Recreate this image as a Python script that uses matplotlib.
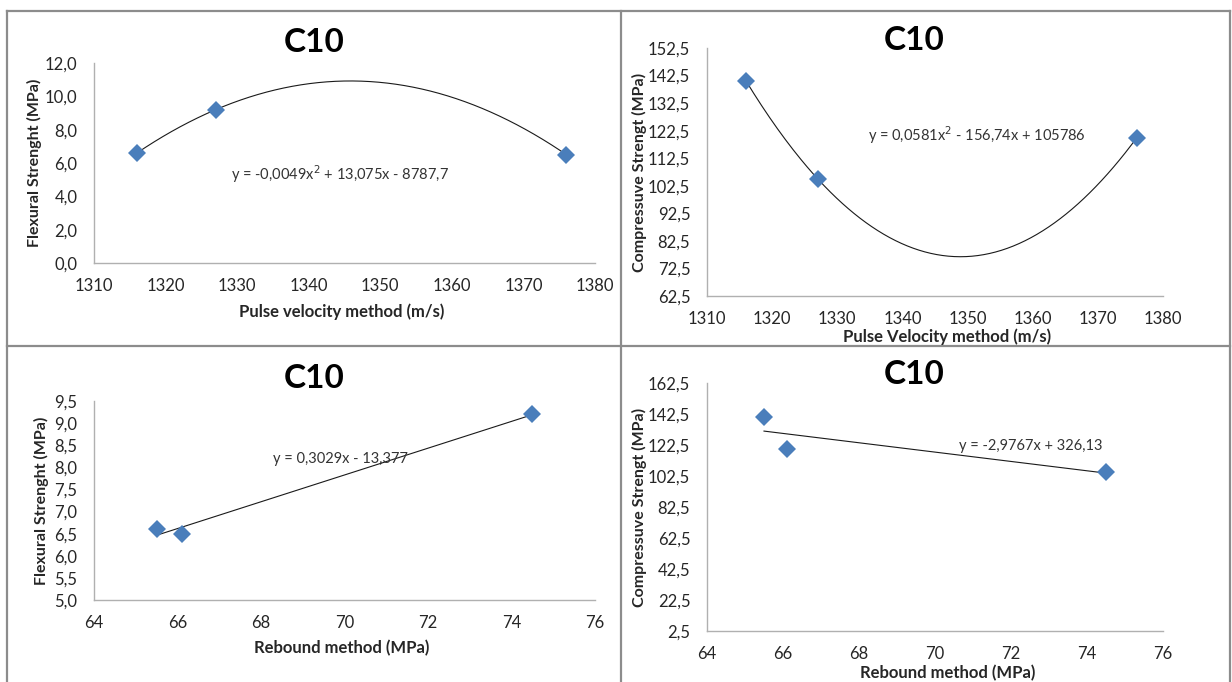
import numpy as np
import matplotlib
matplotlib.use("Agg")
import matplotlib.pyplot as plt
from matplotlib.lines import Line2D
from matplotlib.ticker import FuncFormatter

plt.rcParams['font.family'] = ['Lato', 'DejaVu Sans']

# measurements for the C10 mix
pulse_velocity = [1316, 1327, 1376]        # m/s
rebound = [65.5, 74.5, 66.1]               # MPa, same specimens as above
flexural = [6.6, 9.2, 6.5]                 # MPa
compressive = [140.5, 105.0, 120.0]        # MPa

pv_ticks = [1310, 1320, 1330, 1340, 1350, 1360, 1370, 1380]
rb_ticks = [64, 66, 68, 70, 72, 74, 76]
flex_pv_ticks = [0.0, 2.0, 4.0, 6.0, 8.0, 10.0, 12.0]
comp_pv_ticks = [62.5, 72.5, 82.5, 92.5, 102.5, 112.5, 122.5, 132.5, 142.5, 152.5]
flex_rb_ticks = [5.0, 5.5, 6.0, 6.5, 7.0, 7.5, 8.0, 8.5, 9.0, 9.5]
comp_rb_ticks = [2.5, 22.5, 42.5, 62.5, 82.5, 102.5, 122.5, 142.5, 162.5]

W, H = 1232, 682
MARKER = '#4a7ebb'
SPINE = '#8c8c8c'
TEXT = '#262626'


def comma(v, pos=None):
    return f"{v:.1f}".replace('.', ',')


def box(l, r, t, b):
    # pixel box -> figure fraction [left, bottom, width, height]
    return [l / W, 1 - b / H, (r - l) / W, (b - t) / H]


def draw_panel(fig, rect, x, y, deg, xticks, yticks, xlabel, ylabel,
               eq, eq_pos, title_y, xlabel_y, ylabel_x):
    ax = fig.add_axes(box(*rect))
    coef = np.polyfit(x, y, deg)
    xs = np.linspace(min(x), max(x), 200)
    ax.plot(xs, np.polyval(coef, xs), color='#1a1a1a', lw=0.8, zorder=2)
    ax.plot(x, y, 'D', color=MARKER, markersize=9, markeredgewidth=0, zorder=3)

    ax.set_xlim(xticks[0], xticks[-1])
    ax.set_ylim(yticks[0], yticks[-1])
    ax.set_xticks(xticks)
    ax.set_yticks(yticks)
    ax.yaxis.set_major_formatter(FuncFormatter(comma))
    ax.tick_params(length=0, labelsize=12, labelcolor=TEXT)
    ax.tick_params(axis='x', pad=11)
    ax.tick_params(axis='y', pad=12)
    for s in ('top', 'right'):
        ax.spines[s].set_visible(False)
    for s in ('left', 'bottom'):
        ax.spines[s].set_color('#b0b0b0')
        ax.spines[s].set_linewidth(1.0)

    l, r, t, b = rect
    cx = 314 if l < 600 else 914
    fig.text(cx / W, 1 - title_y / H, 'C10', fontsize=24, fontweight='bold',
             ha='center', va='center', color='black')
    fig.text((l + r) / 2 / W + (0.01 if l > 600 else -0.002), 1 - xlabel_y / H,
             xlabel, fontsize=12, fontweight='bold', ha='center', va='center',
             color=TEXT)
    fig.text(ylabel_x / W, 1 - (t + b) / 2 / H, ylabel, fontsize=11.5,
             fontweight='bold', rotation=90, ha='center', va='center', color=TEXT)
    fig.text(eq_pos[0] / W, 1 - eq_pos[1] / H, eq, fontsize=10.5,
             ha='left', va='center', color='#333333')
    return ax


fig = plt.figure(figsize=(W / 100, H / 100), dpi=100)
fig.patch.set_facecolor('white')

draw_panel(fig, (94, 595, 63, 263), pulse_velocity, flexural, 2,
           pv_ticks, flex_pv_ticks,
           'Pulse velocity method (m/s)', 'Flexural Strenght (MPa)',
           'y = -0,0049x$^2$ + 13,075x - 8787,7', (231, 174), 43, 312, 34)

draw_panel(fig, (707, 1163, 48, 296), pulse_velocity, compressive, 2,
           pv_ticks, comp_pv_ticks,
           'Pulse Velocity method (m/s)', 'Compressuve Strengt (MPa)',
           'y = 0,0581x$^2$ - 156,74x + 105786', (868, 135), 40, 337, 639)

draw_panel(fig, (94, 595, 401, 600), rebound, flexural, 1,
           rb_ticks, flex_rb_ticks,
           'Rebound method (MPa)', 'Flexural Strenght (MPa)',
           'y = 0,3029x - 13,377', (273, 459), 379, 648, 41)

draw_panel(fig, (707, 1163, 383, 631), rebound, compressive, 1,
           rb_ticks, comp_rb_ticks,
           'Rebound method (MPa)', 'Compressuve Strengt (MPa)',
           'y = -2,9767x + 326,13', (959, 446), 375, 673, 639)


# table grid around the four charts
def px_line(x0, y0, x1, y1):
    fig.add_artist(Line2D([x0 / W, x1 / W], [1 - y0 / H, 1 - y1 / H],
                          transform=fig.transFigure, color=SPINE, lw=1.6))


px_line(7, 11, 1230, 11)
px_line(7, 346, 1230, 346)
px_line(7, 11, 7, H)
px_line(621, 11, 621, H)
px_line(1230, 11, 1230, H)

fig.savefig('out.png', dpi=100, facecolor='white')
